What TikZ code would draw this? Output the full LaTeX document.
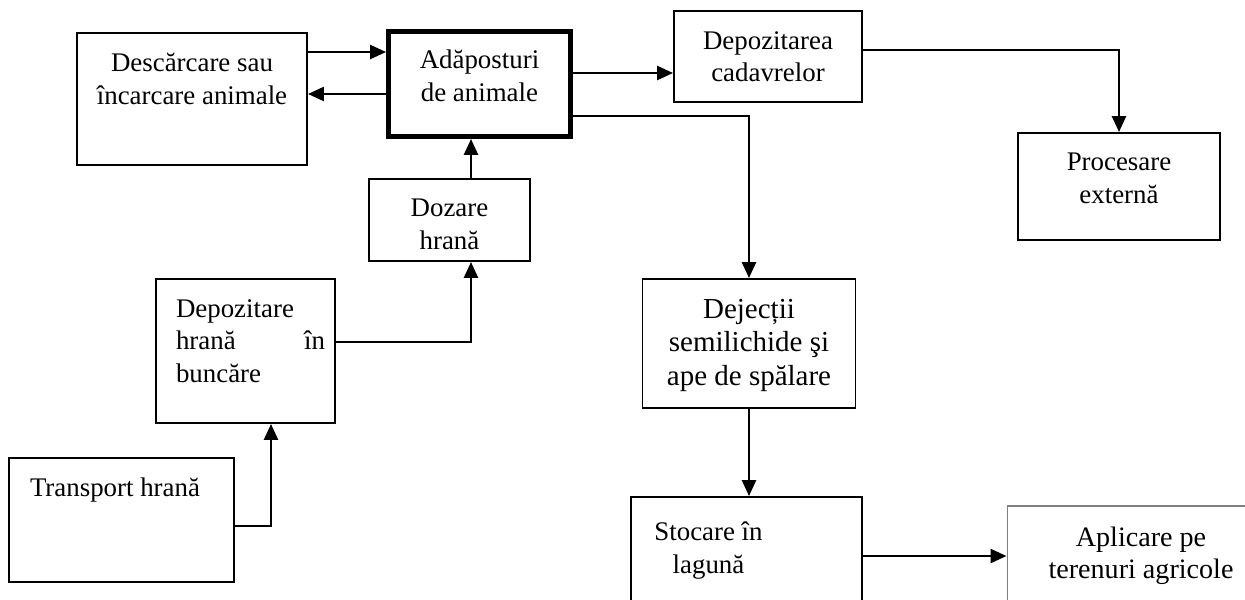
\documentclass[tikz,border=0pt]{standalone}
\usepackage{fontspec}
\setmainfont{Liberation Serif}
\usetikzlibrary{arrows.meta}

\begin{document}
\begin{tikzpicture}[
    x=0.02cm, y=-0.02cm,
    box/.style={draw=black, line width=1.1pt, inner sep=0pt},
    txt/.style={anchor=north, align=center, yshift=-0.3cm, font=\fontsize{15.3}{18.5}\selectfont},
    arr/.style={-{Triangle[length=0.32cm, width=0.28cm]}, line width=1.5pt},
    link/.style={line width=1.5pt}
]
    \useasboundingbox (0,0) rectangle (1245,599);
    \clip (0,0) rectangle (1245,599);

    % boxes
    \node[box, minimum width=4.6cm, minimum height=2.64cm,
        label={[txt]north:{Descărcare sau\\încarcare animale}}] at (192,99) (descarcare) {};
    \node[box, line width=2.8pt, minimum width=3.64cm, minimum height=2.1cm,
        label={[txt]north:{Adăposturi\\de animale}}] at (479.5,84) (adapost) {};
    \node[box, minimum width=3.76cm, minimum height=1.82cm,
        label={[txt]north:{Depozitarea\\cadavrelor}}] at (768,56.5) (cadavre) {};
    \node[box, minimum width=4.04cm, minimum height=2.14cm,
        label={[txt]north:{Procesare\\externă}}] at (1119,186.5) (procesare) {};
    \node[box, minimum width=3.22cm, minimum height=1.64cm,
        label={[txt]north:{Dozare\\hrană}}] at (449.5,220) (dozare) {};
    \node[box, minimum width=3.58cm, minimum height=2.88cm,
        label={[txt, align=left, text width=2.98cm, xshift=0.1cm]north:{Depozitare\\hrană\hfill în\\buncăre}}] at (245.5,351) (depohrana) {};
    \node[box, minimum width=4.5cm, minimum height=2.48cm,
        label={[txt, xshift=-0.13cm]north:{Transport hrană}}] at (121.5,520) (transport) {};
    \node[box, minimum width=4.26cm, minimum height=2.58cm,
        label={[txt, font=\fontsize{16.5}{19}\selectfont]north:{Dejecții\\semilichide şi\\ape de spălare}}] at (749,343.5) (dejectii) {};
    \node[box, minimum width=4.62cm, minimum height=3.04cm,
        label={[txt, xshift=-0.76cm, yshift=-0.1cm]north:{Stocare în\\lagună}}] at (746.5,573) (stocare) {};
    \node[box, draw=gray, line width=0.6pt, minimum width=5.66cm, minimum height=2.88cm,
        label={[txt, xshift=-0.15cm, font=\fontsize{16}{18.5}\selectfont]north:{Aplicare pe\\terenuri agricole}}] at (1148.5,578) (aplicare) {};

    % connectors
    \draw[arr] ([yshift=0.94cm]descarcare.east) -- ([yshift=0.94cm]descarcare.east -| adapost.west);
    \draw[arr] ([yshift=-0.2cm]adapost.west) -- ([yshift=-0.2cm]adapost.west -| descarcare.east);
    \draw[arr] ([yshift=0.22cm]adapost.east) -- ([yshift=0.22cm]adapost.east -| cadavre.west);
    \draw[arr] ([yshift=0.13cm]cadavre.east) -| (procesare.north);
    \draw[arr] ([yshift=-0.64cm]adapost.east) -| (dejectii.north);
    \draw[arr] (dejectii.south) -- (dejectii.south |- stocare.north);
    \draw[arr] ([yshift=0.34cm]stocare.east) -- ([yshift=0.34cm]stocare.east -| aplicare.west);
    \draw[arr] ([xshift=0.43cm]dozare.north) -- ([xshift=0.43cm]dozare.north |- adapost.south);
    \draw[arr] ([yshift=0.18cm]depohrana.east) -| ([xshift=0.43cm]dozare.south);
    \draw[arr] ([yshift=-0.12cm]transport.east) -| ([xshift=0.51cm]depohrana.south);
\end{tikzpicture}
\end{document}
